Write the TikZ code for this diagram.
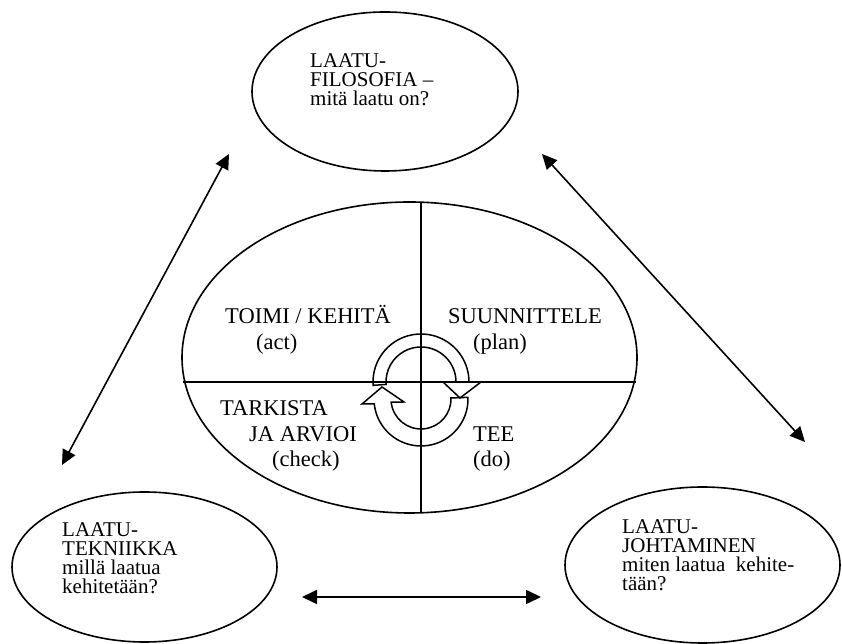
\documentclass[tikz,border=0pt]{standalone}
\usepackage{fontspec}
\setmainfont{Liberation Serif}
\usetikzlibrary{arrows.meta,shapes.geometric}
\newcommand\tblock[2]{\vtop{\baselineskip=#1\lineskiplimit=-100pt\lineskip=0pt #2}}
\begin{document}
\begin{tikzpicture}[x=1pt,y=1pt,
  oval/.style={draw, shape=ellipse, line width=1.6pt, inner sep=0pt},
  txt/.style={inner sep=0pt, anchor=base west, font=\fontsize{21}{19}\selectfont},
  ctr/.style={inner sep=0pt, anchor=base west, font=\fontsize{22.5}{26}\selectfont},
  dbl/.style={line width=1.6pt, {Triangle[length=15pt,width=14pt]}-{Triangle[length=15pt,width=14pt]}},
  cyc/.style={line width=1.5pt, line join=miter},
  quad/.style={line width=1.5pt}]
\useasboundingbox (0,0) rectangle (842,644);

% ellipses
\node[oval, minimum width=266pt, minimum height=159pt] (phil) at (385,552.5) {};
\node[oval, minimum width=455pt, minimum height=311pt] (pdca) at (409.5,286.5) {};
\node[oval, minimum width=265pt, minimum height=150pt] (tech) at (144.5,77) {};
\node[oval, minimum width=275pt, minimum height=156pt] (lead) at (702.5,79) {};

% quadrant lines
\coordinate (vt) at (421,441.6);
\coordinate (vb) at (421,131.4);
\coordinate (hl) at (183,262);
\coordinate (hr) at (636,262);
\draw[quad] (vt) -- (vb);
\draw[quad] (hl) -- (hr);

% cycle arrows
\draw[cyc] ([shift={(184:48pt)}]421,262) arc[start angle=184, end angle=0, radius=48pt]
  -- (481,262) -- (460,246) -- (443,262) -- (456,262)
  arc[start angle=0, end angle=184, radius=35pt] -- cycle;
\draw[cyc] ([shift={(2:47pt)}]421,245) arc[start angle=2, end angle=-174, radius=47pt]
  -- (362,240) -- (382,257) -- (404,242) -- ([shift={(-174:30pt)}]421,245)
  arc[start angle=-174, end angle=2, radius=30pt] -- cycle;

% texts
\node[txt] (tphil) at (310,576) {\tblock{19pt}{\hbox{LAATU-}\hbox{FILOSOFIA –}\hbox{mitä laatu on?}}};
\node[txt] (ttech) at (62,107) {\tblock{19pt}{\hbox{LAATU-}\hbox{TEKNIIKKA}\hbox{millä laatua}\hbox{kehitetään?}}};
\node[txt] (tlead) at (622,110) {\tblock{19pt}{\hbox{LAATU-}\hbox{JOHTAMINEN}\hbox{miten laatua\ \ kehite-}\hbox{tään?}}};

\node[ctr] (tact) at (225,320) {\tblock{26pt}{\hbox{TOIMI / KEHITÄ}\hbox{\kern31pt(act)}}};
\node[ctr] (tplan) at (448,320) {\tblock{26pt}{\hbox{SUUNNITTELE}\hbox{\kern25pt(plan)}}};
\node[ctr] (tcheck) at (220,228) {\tblock{25.5pt}{\hbox{TARKISTA}\hbox{\kern29pt JA ARVIOI}\hbox{\kern52pt(check)}}};
\node[ctr] (tdo) at (473,202) {\tblock{25pt}{\hbox{TEE}\hbox{(do)}}};

% connectors
\coordinate (a1) at (229,490);
\coordinate (a2) at (62,179);
\coordinate (b1) at (542,490);
\coordinate (b2) at (805,202);
\coordinate (c1) at (302,47);
\coordinate (c2) at (541,47);
\draw[dbl] (a1) -- (a2);
\draw[dbl] (b1) -- (b2);
\draw[dbl] (c1) -- (c2);
\end{tikzpicture}
\end{document}
